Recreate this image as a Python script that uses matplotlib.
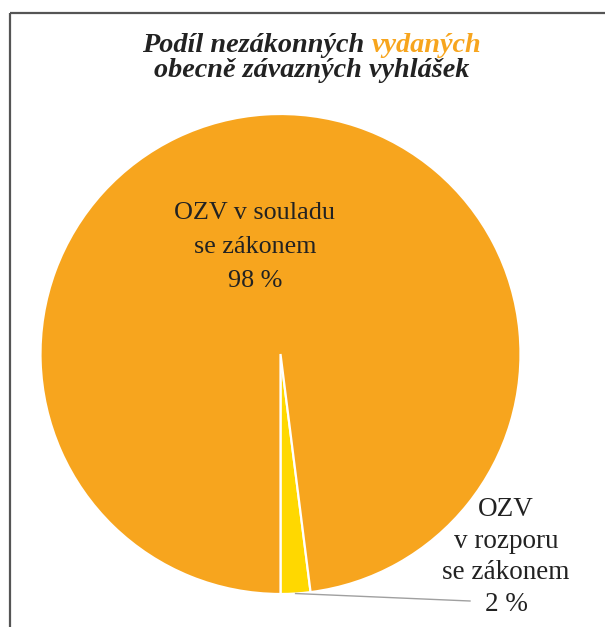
import numpy as np
import matplotlib.pyplot as plt

# data
labels = ['OZV\nv rozporu\nse zákonem', 'OZV v souladu\nse zákonem']
shares = [2, 98]
colors = ['#FFD800', '#F7A51E']
title_1 = 'Podíl nezákonných '
title_hi = 'vydaných'
title_2 = 'obecně závazných vyhlášek'

W, H = 605, 627
fig = plt.figure(figsize=(W / 100, H / 100), dpi=100)
ax = fig.add_axes((0, 0, 1, 1))

cx, cy, r = 280.5, H - 354, 240
wedges, _ = ax.pie(shares, colors=colors, startangle=-90, counterclock=True,
                   center=(cx, cy), radius=r,
                   wedgeprops=dict(edgecolor='white', linewidth=1.6))
ax.set_xlim(0, W)
ax.set_ylim(0, H)
ax.set_aspect('auto')
ax.axis('off')

# frame on the left and top only
ax.plot([10, 10], [0, H - 13], color='#555555', lw=1.6, solid_capstyle='butt')
ax.plot([10, W], [H - 13, H - 13], color='#555555', lw=1.6, solid_capstyle='butt')

txt = '#222222'
serif = 'Liberation Serif'

# big slice label
ax.text(255, H - 247, labels[1] + '\n%d %%' % shares[1], ha='center', va='center',
        fontsize=18.8, family=serif, color=txt, linespacing=1.7)

# small slice label with leader line
w0 = wedges[0]
mid = np.deg2rad((w0.theta1 + w0.theta2) / 2)
ax.plot([cx + r * np.cos(mid), 470], [cy + r * np.sin(mid), H - 601],
        color='#a0a0a0', lw=1)
ax.text(506, H - 557, labels[0] + '\n%d %%' % shares[0], ha='center', va='center',
        fontsize=19.5, family=serif, color=txt, linespacing=1.34)

# title, first line has one word in orange
tkw = dict(fontsize=20.3, family=serif, fontweight='bold', fontstyle='italic',
           va='baseline')
renderer = fig.canvas.get_renderer()
a = ax.text(0, H - 52, title_1, color=txt, ha='left', **tkw)
b = ax.text(0, H - 52, title_hi, color=colors[1], ha='left', **tkw)
wa = a.get_window_extent(renderer).width
wb = b.get_window_extent(renderer).width
x0 = 312 - (wa + wb) / 2
a.set_x(x0)
b.set_x(x0 + wa)
ax.text(312, H - 77, title_2, color=txt, ha='center', **tkw)

fig.savefig('out.png', dpi=100, facecolor='white')
